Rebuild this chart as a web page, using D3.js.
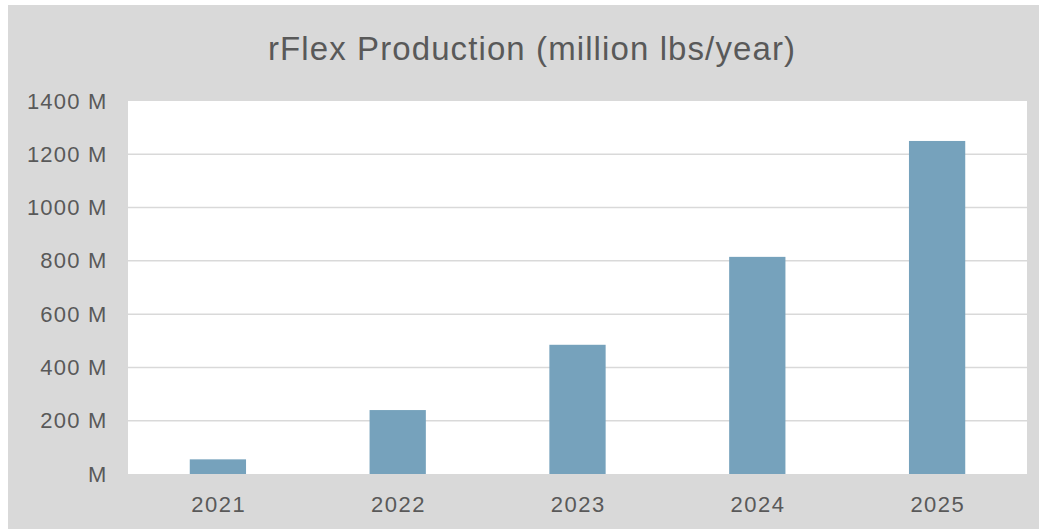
<!DOCTYPE html>
<html>
<head>
<meta charset="utf-8">
<script src="https://cdn.jsdelivr.net/npm/d3@7"></script>
<style>
  html, body { margin: 0; padding: 0; background: #ffffff; }
  svg { display: block; }
  text { font-family: "Liberation Sans", Arial, sans-serif; fill: #595959; }
</style>
</head>
<body>
<svg id="chart" width="1040" height="529"></svg>
<script>
// Annual rFlex output, million lbs
const years = ["2021", "2022", "2023", "2024", "2025"];
const production = [55, 240, 485, 815, 1250];
const yTicks = [0, 200, 400, 600, 800, 1000, 1200, 1400];
const title = "rFlex Production (million lbs/year)";

const svg = d3.select("#chart");
const W = 1040, H = 529;

// Chart frame
svg.append("rect")
  .attr("x", 8).attr("y", 5)
  .attr("width", W - 9).attr("height", H - 5)
  .attr("fill", "#d9d9d9");

const plot = { left: 128, right: 1027, top: 101, bottom: 474 };

svg.append("rect")
  .attr("x", plot.left).attr("y", plot.top)
  .attr("width", plot.right - plot.left).attr("height", plot.bottom - plot.top)
  .attr("fill", "#ffffff");

const x = d3.scaleBand()
  .domain(years)
  .range([plot.left, plot.right])
  .paddingInner(0.687)
  .paddingOuter(0.3435);

const y = d3.scaleLinear()
  .domain([0, 1400])
  .range([plot.bottom, plot.top]);

// Horizontal gridlines
svg.append("g")
  .selectAll("line")
  .data(yTicks.filter(d => d > 0 && d < 1400))
  .join("line")
  .attr("x1", plot.left).attr("x2", plot.right)
  .attr("y1", d => y(d)).attr("y2", d => y(d))
  .attr("stroke", "#d9d9d9")
  .attr("stroke-width", 1.5);

// Bars
svg.append("g")
  .selectAll("rect")
  .data(years.map((yr, i) => ({ yr, v: production[i] })))
  .join("rect")
  .attr("x", d => x(d.yr))
  .attr("y", d => y(d.v))
  .attr("width", x.bandwidth())
  .attr("height", d => y(0) - y(d.v))
  .attr("fill", "#76a2bc");

// Y axis labels
const yAxis = d3.axisLeft(y)
  .tickValues(yTicks)
  .tickSize(0)
  .tickPadding(0)
  .tickFormat(d => d === 0 ? "M" : d + " M");

svg.append("g")
  .attr("transform", `translate(${107.5},0)`)
  .call(yAxis)
  .call(g => g.select(".domain").remove())
  .selectAll("text")
  .style("font-family", "'Liberation Sans', Arial, sans-serif")
  .style("font-size", "22px")
  .style("letter-spacing", "1.2px")
  .attr("fill", "#595959");

// X axis labels
const xAxis = d3.axisBottom(x).tickSize(0).tickPadding(0);
svg.append("g")
  .attr("transform", `translate(0,${plot.bottom})`)
  .call(xAxis)
  .call(g => g.select(".domain").remove())
  .selectAll("text")
  .attr("dy", null)
  .attr("y", 38)
  .attr("dx", 0.75)
  .style("font-family", "'Liberation Sans', Arial, sans-serif")
  .style("font-size", "22px")
  .style("letter-spacing", "1.5px")
  .attr("fill", "#595959");

// Title
svg.append("text")
  .attr("x", 532).attr("y", 60)
  .attr("text-anchor", "middle")
  .style("font-size", "33px")
  .style("letter-spacing", "1.1px")
  .text(title);
</script>
</body>
</html>
